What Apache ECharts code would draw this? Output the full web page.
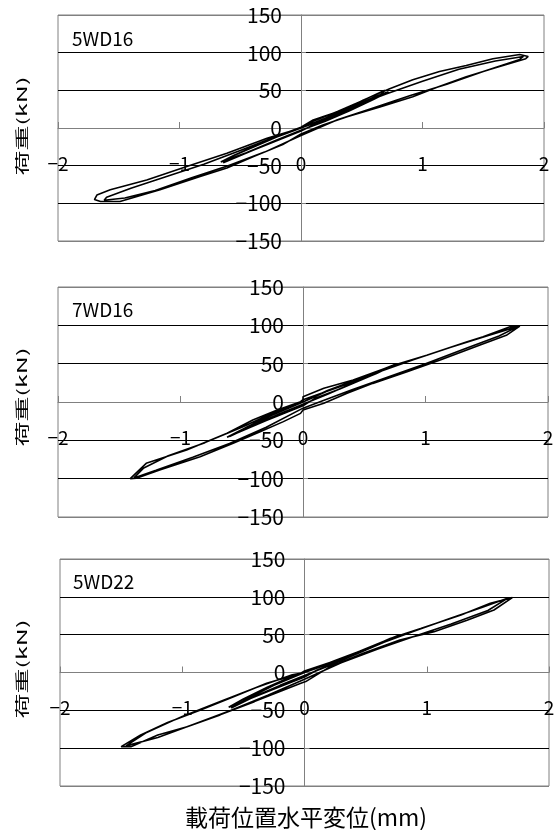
<!DOCTYPE html>
<html>
<head>
<meta charset="utf-8">
<script src="https://cdn.jsdelivr.net/npm/echarts@6/dist/echarts.min.js"></script>
<style>
html,body{margin:0;padding:0;background:#fff;}
#chart{width:558px;height:830px;}
</style>
</head>
<body>
<div id="chart"></div>
<script>
// ---- data (displacement mm, load kN) ----
const panelTitles = ['5WD16', '7WD16', '5WD22'];
const xTicks = [-2, -1, 0, 1, 2];
const yTicks = [-150, -100, -50, 0, 50, 100, 150];
const xTitle = '載荷位置水平変位(mm)';
const yTitle = '荷重(kN)';

// Panel 1: 5WD16
const p1Small1 = [[0,0],[0.1,9],[0.3,22],[0.5,36],[0.69,50],[0.66,45],[0.5,32],[0.3,18],[0.1,4],[0,-4],[-0.2,-17],[-0.4,-30],[-0.64,-46],[-0.6,-40],[-0.4,-26],[-0.2,-12],[0,0]];
const p1Small2 = [[0,0],[0.2,13],[0.4,27],[0.6,41],[0.72,48],[0.6,38],[0.4,23],[0.2,9],[0,-3],[-0.2,-16],[-0.45,-33],[-0.66,-45],[-0.55,-36],[-0.35,-22],[-0.15,-8],[0,1]];
const p1Large1 = [[0,2.6],[0.1,10.6],[0.38,26],[0.51,37],[0.73,52],[0.92,64],[1.14,75],[1.36,83],[1.58,92],[1.80,97.6],[1.87,95],[1.85,92],[1.58,79],[1.36,68],[1.12,54],[0.92,41.5],[0.65,28],[0.38,15],[0.18,4],[0,-8],[-0.15,-22],[-0.39,-38],[-0.61,-53],[-0.83,-64.5],[-1.16,-82],[-1.49,-97.6],[-1.65,-97.6],[-1.70,-95],[-1.68,-89],[-1.57,-82],[-1.27,-69],[-0.94,-51],[-0.61,-33.5],[-0.28,-13.7],[0,0]];
const p1Large2 = [[0,0],[0.2,12],[0.45,30],[0.7,45],[1.0,62],[1.3,78],[1.6,89],[1.83,95],[1.8,91],[1.5,75],[1.2,58],[0.9,43],[0.6,27],[0.3,11],[0,-10],[-0.3,-32],[-0.6,-50],[-0.9,-66],[-1.2,-83],[-1.45,-93],[-1.62,-96],[-1.6,-92],[-1.4,-80],[-1.1,-64],[-0.8,-48],[-0.5,-30],[-0.2,-11],[0,0]];

// Panel 2: 7WD16
const p2Small1 = [[0,0],[0.2,15],[0.45,30],[0.75,49],[0.6,37],[0.4,24],[0.2,10],[0,-3],[-0.2,-16],[-0.4,-30],[-0.6,-45],[-0.45,-32],[-0.25,-17],[0,0]];
const p2Small2 = [[0,2],[0.25,18],[0.5,33],[0.72,47],[0.55,34],[0.3,17],[0.1,5],[0,-5],[-0.3,-24],[-0.62,-46],[-0.5,-36],[-0.3,-20],[-0.1,-6],[0,0]];
const p2Large1 = [[0,6.9],[0.17,17.8],[0.41,28.7],[0.74,48],[1.01,61],[1.34,78.6],[1.47,85],[1.69,98],[1.77,99],[1.66,87],[1.44,74],[1.12,54.8],[0.85,39.5],[0.57,24.3],[0.36,11.3],[0.17,-1.7],[0,-10.4],[-0.02,-14.8],[-0.16,-25.6],[-0.35,-38.7],[-0.57,-53.9],[-0.84,-71.3],[-1.17,-88.6],[-1.36,-99.5],[-1.41,-100],[-1.28,-80],[-0.95,-62.6],[-0.62,-40.8],[-0.41,-23.5],[-0.21,-10.4],[-0.02,0.4]];
const p2Large2 = [[0,3],[0.3,20],[0.6,38],[0.9,55],[1.2,71],[1.5,86],[1.72,97],[1.75,98],[1.6,86],[1.3,68],[1.0,50],[0.7,33],[0.4,16],[0.15,1],[0,-8],[-0.3,-33],[-0.6,-54],[-0.9,-72],[-1.2,-89],[-1.38,-99],[-1.3,-86],[-1.1,-70],[-0.8,-53],[-0.5,-33],[-0.2,-11],[0,0]];

// Panel 3: 5WD22
const p3Small1 = [[0,0],[0.2,12],[0.45,28],[0.78,50],[0.6,37],[0.4,23],[0.2,9],[0,-4],[-0.2,-17],[-0.4,-31],[-0.6,-47],[-0.45,-33],[-0.25,-17],[0,0]];
const p3Small2 = [[0,1],[0.25,16],[0.5,31],[0.75,47],[0.55,33],[0.3,16],[0.1,3],[0,-6],[-0.3,-25],[-0.62,-46],[-0.5,-35],[-0.3,-19],[-0.1,-5],[0,0]];
const p3Large1 = [[0.01,1],[0.21,12],[0.46,27.5],[0.70,45],[0.95,58],[1.28,76],[1.52,91.4],[1.70,99],[1.55,82.6],[1.33,69],[1.06,54],[0.78,43],[0.48,25.4],[0.21,7.7],[0.01,-12],[-0.03,-14.3],[-0.17,-23],[-0.41,-38.5],[-0.69,-56],[-0.96,-71.6],[-1.20,-82.6],[-1.42,-98],[-1.50,-98],[-1.34,-82.6],[-1.12,-66],[-0.85,-49.5],[-0.58,-32],[-0.31,-14.3],[-0.03,-1]];
const p3Large2 = [[0,2],[0.3,18],[0.6,37],[0.9,55],[1.2,72],[1.45,86],[1.66,98],[1.5,82],[1.2,64],[0.9,48],[0.6,31],[0.3,13],[0,-9],[-0.3,-30],[-0.6,-50],[-0.9,-68],[-1.2,-86],[-1.46,-97],[-1.3,-80],[-1.0,-58],[-0.7,-39],[-0.4,-20],[-0.1,-3],[0,0]];

const panelData = [
  [].concat(p1Small1, p1Small2, p1Large1, p1Large2),
  [].concat(p2Small1, p2Small2, p2Large1, p2Large2),
  [].concat(p3Small1, p3Small2, p3Large1, p3Large2)
];

// ---- layout ----
const grids = [
  {left: 58, top: 15, width: 486, height: 226},
  {left: 58, top: 287, width: 490, height: 230},
  {left: 60, top: 559, width: 489, height: 227}
];
const FONT = '"Noto Sans CJK JP", "Noto Sans", sans-serif';
const GREY = '#808080';
const fmt = v => String(v).replace('-', '\u2212');

const option = {
  animation: false,
  backgroundColor: '#fff',
  grid: grids.map(g => Object.assign({show: true, borderColor: GREY, borderWidth: 1, backgroundColor: 'transparent'}, g)),
  xAxis: grids.map((g, i) => ({
    gridIndex: i, type: 'value', min: xTicks[0], max: xTicks[xTicks.length - 1], interval: 1,
    position: 'bottom', offset: -g.height / 2,
    axisLine: {show: true, onZero: false, lineStyle: {color: GREY, width: 1}},
    axisTick: {show: true, inside: true, length: 6, lineStyle: {color: GREY}},
    axisLabel: {show: true, margin: 26, color: '#000', fontSize: 19, fontFamily: FONT, formatter: fmt},
    splitLine: {show: false}, z: 3
  })),
  yAxis: grids.map((g, i) => ({
    gridIndex: i, type: 'value', min: yTicks[0], max: yTicks[yTicks.length - 1], interval: 50,
    position: 'left', offset: -g.width / 2,
    axisLine: {show: true, onZero: false, lineStyle: {color: GREY, width: 1}},
    axisTick: {show: true, inside: true, length: 5, lineStyle: {color: GREY}},
    axisLabel: {show: true, margin: 19, color: '#000', fontSize: 21, fontFamily: FONT, formatter: fmt},
    splitLine: {show: true, lineStyle: {color: [GREY, '#000', '#000', GREY, '#000', '#000', GREY], width: 1}}, z: 3
  })),
  series: panelData.map((d, i) => ({
    type: 'line', xAxisIndex: i, yAxisIndex: i, data: d,
    showSymbol: false, symbol: 'none', smooth: false,
    lineStyle: {color: '#000', width: 1.6}, z: 5
  })),
  graphic: [
    {type: 'text', x: 72, y: 39, style: {text: panelTitles[0], font: '19px ' + FONT, fill: '#000', verticalAlign: 'middle'}},
    {type: 'text', x: 72, y: 310, style: {text: panelTitles[1], font: '19px ' + FONT, fill: '#000', verticalAlign: 'middle'}},
    {type: 'text', x: 73, y: 582, style: {text: panelTitles[2], font: '19px ' + FONT, fill: '#000', verticalAlign: 'middle'}},
    {type: 'text', x: 22, y: 126, rotation: Math.PI / 2, scaleY: 0.55, style: {text: yTitle, font: '25px ' + FONT, fill: '#000', align: 'center', verticalAlign: 'middle'}},
    {type: 'text', x: 22, y: 397, rotation: Math.PI / 2, scaleY: 0.55, style: {text: yTitle, font: '25px ' + FONT, fill: '#000', align: 'center', verticalAlign: 'middle'}},
    {type: 'text', x: 22, y: 669, rotation: Math.PI / 2, scaleY: 0.55, style: {text: yTitle, font: '25px ' + FONT, fill: '#000', align: 'center', verticalAlign: 'middle'}},
    {type: 'text', x: 306, y: 817, style: {text: xTitle, font: '23px ' + FONT, fill: '#000', align: 'center', verticalAlign: 'middle'}}
  ]
};

const chart = echarts.init(document.getElementById('chart'), null, {renderer: 'canvas'});
chart.setOption(option);
</script>
</body>
</html>
